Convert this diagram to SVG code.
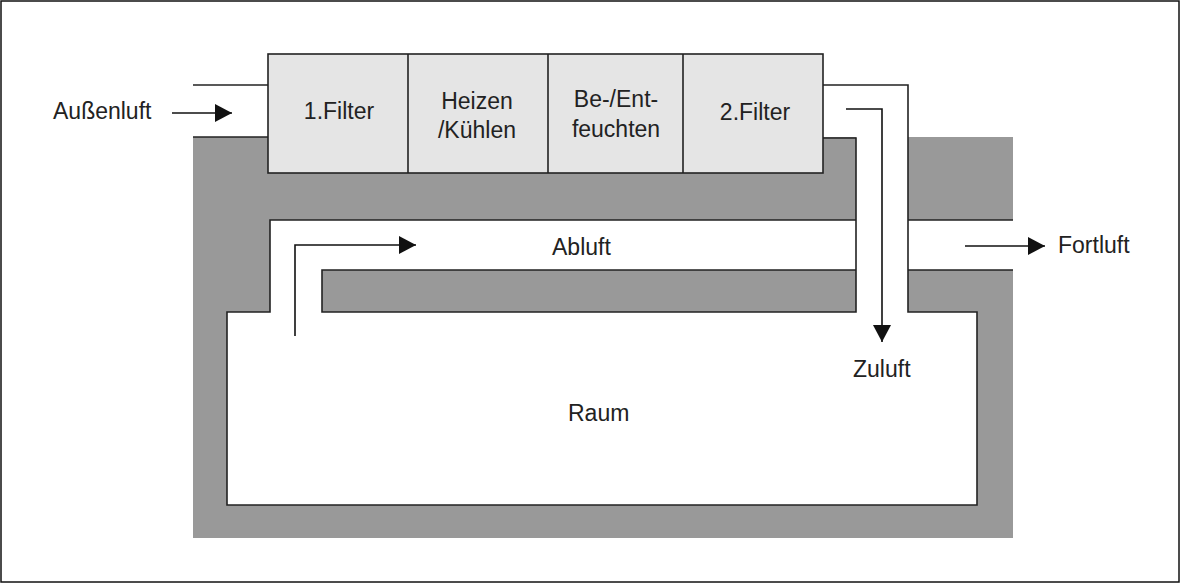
<svg xmlns="http://www.w3.org/2000/svg" width="1181" height="584" viewBox="0 0 1181 584">
<defs>
<style>
.wall{fill:#999999;stroke:none}
.air{fill:#ffffff;stroke:none}
.edge{fill:none;stroke:#222;stroke-width:1.6;stroke-linejoin:miter}
.unit{fill:#e5e5e5;stroke:#222;stroke-width:1.6}
.flow{fill:none;stroke:#111;stroke-width:1.6}
.lbl{font-family:"Liberation Sans",Arial,sans-serif;font-size:23px;fill:#222}
.mid{text-anchor:middle}
</style>
<marker id="ah" markerUnits="userSpaceOnUse" markerWidth="18" markerHeight="18" viewBox="0 0 18 18" refX="17" refY="9" orient="auto">
<path d="M0,0 L17,9 L0,18 Z" fill="#111"/>
</marker>
</defs>
<rect x="0" y="0" width="1181" height="584" fill="#fff"/>
<rect x="1" y="1" width="1178" height="581" fill="none" stroke="#111" stroke-width="1.5"/>

<g id="building">
<rect class="wall" x="193" y="137" width="820" height="401"/>
<path class="air" d="M856,85 H908 V220 H1013 V270 H908 V312 H977 V505 H227 V312 H270 V220 H856 Z"/>
<rect class="wall" x="322" y="270" width="534" height="42"/>
<path class="edge" d="M193,85 H268"/>
<path class="edge" d="M193,137 H268"/>
<path class="edge" d="M823,85 H908 V312 H977 V505 H227 V312 H270 V220 H856"/>
<path class="edge" d="M823,138 H856 V312 H322 V270 H856"/>
<path class="edge" d="M908,220 H1013 M908,270 H1013"/>
</g>

<g id="unit">
<rect class="unit" x="268" y="54" width="555" height="119"/>
<path class="edge" d="M408,54 V173 M548,54 V173 M683,54 V173"/>
</g>

<g id="n-filter1"><text class="lbl mid" x="339" y="119">1.Filter</text></g>
<g id="n-heizen"><text class="lbl mid" x="477" y="109">Heizen</text><text class="lbl mid" x="477" y="138">/Kühlen</text></g>
<g id="n-befeuchten"><text class="lbl mid" x="616" y="107">Be-/Ent-</text><text class="lbl mid" x="616" y="137">feuchten</text></g>
<g id="n-filter2"><text class="lbl mid" x="755" y="120">2.Filter</text></g>
<g id="n-aussenluft"><text class="lbl" x="53" y="119">Außenluft</text></g>
<g id="n-abluft"><text class="lbl" x="552" y="255">Abluft</text></g>
<g id="n-fortluft"><text class="lbl" x="1058" y="253">Fortluft</text></g>
<g id="n-zuluft"><text class="lbl" x="853" y="377">Zuluft</text></g>
<g id="n-raum"><text class="lbl" x="568" y="421">Raum</text></g>

<g id="connectors">
<path class="flow" d="M172,113 H232" marker-end="url(#ah)"/>
<path class="flow" d="M295,336 V245 H416" marker-end="url(#ah)"/>
<path class="flow" d="M846,109 H882 V342" marker-end="url(#ah)"/>
<path class="flow" d="M965,246 H1045" marker-end="url(#ah)"/>
</g>
</svg>
